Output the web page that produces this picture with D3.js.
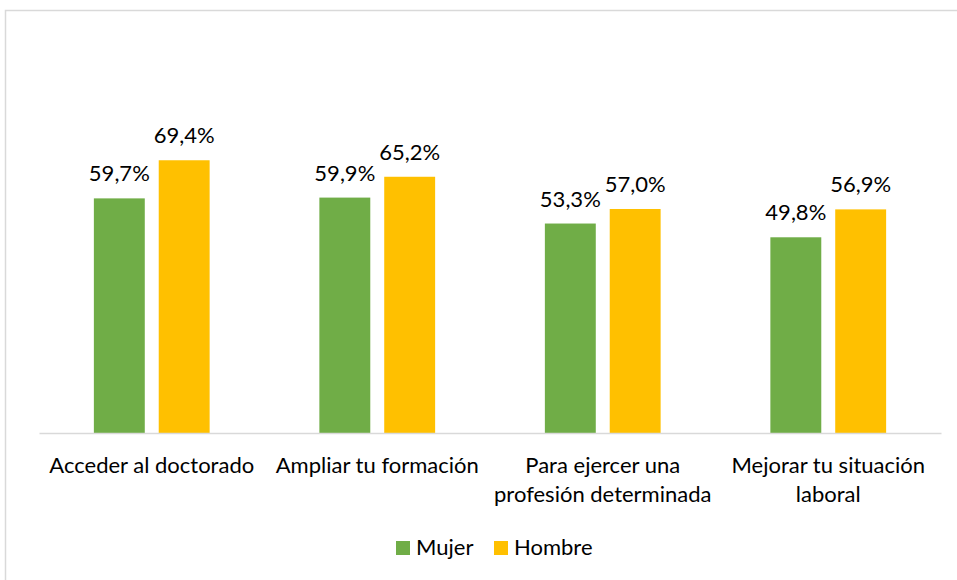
<!DOCTYPE html>
<html>
<head>
<meta charset="utf-8">
<script src="https://cdn.jsdelivr.net/npm/d3@7"></script>
<style>
  body { margin: 0; background: #fff; }
  svg { display: block; font-family: Lato, "Open Sans", sans-serif; }
</style>
</head>
<body>
<script>
const categories = [
  ['Acceder al doctorado'],
  ['Ampliar tu formación'],
  ['Para ejercer una', 'profesión determinada'],
  ['Mejorar tu situación', 'laboral']
];
const seriesNames = ['Mujer', 'Hombre'];
const mujer = [59.7, 59.9, 53.3, 49.8];
const hombre = [69.4, 65.2, 57.0, 56.9];
const colors = ['#70AD47', '#FFC000'];

const [w, h] = [957, 580];
const fontSize = '22px';
const fmt = v => d3.format('.1f')(v).replace('.', ',') + '%';

const svg = d3.select('body').append('svg')
    .attr('width', w)
    .attr('height', h);

// chart area border
svg.append('rect')
    .attr('x', 5.5).attr('y', 10.5)
    .attr('width', 960).attr('height', 580)
    .attr('fill', 'none')
    .attr('stroke', '#d9d9d9')
    .attr('stroke-width', 1.5);

const plot = { left: 39, right: 941, top: 118.6, bottom: 433 };

const x0 = d3.scaleBand()
    .domain(d3.range(categories.length))
    .range([plot.left, plot.right]);

const x1 = d3.scaleBand()
    .domain(seriesNames)
    .range([0, x0.bandwidth()])
    .paddingInner(0.215)
    .paddingOuter(0.846);

const y = d3.scaleLinear()
    .domain([0, 80])
    .range([plot.bottom, plot.top]);

const rows = categories.map((c, i) => ({ i, values: [mujer[i], hombre[i]] }));

const groups = svg.selectAll('.group')
    .data(rows)
    .enter().append('g')
    .attr('class', 'group')
    .attr('transform', d => `translate(${x0(d.i)},0)`);

const bars = groups.selectAll('g.bar')
    .data(d => d.values.map((v, k) => ({ name: seriesNames[k], v, k })))
    .enter().append('g')
    .attr('class', 'bar');

bars.append('rect')
    .attr('x', d => x1(d.name))
    .attr('y', d => y(d.v))
    .attr('width', x1.bandwidth())
    .attr('height', d => y(0) - y(d.v))
    .attr('fill', d => colors[d.k]);

bars.append('text')
    .attr('x', d => x1(d.name) + x1.bandwidth() / 2)
    .attr('y', d => y(d.v) - 17)
    .attr('text-anchor', 'middle')
    .attr('font-size', fontSize)
    .attr('fill', '#000')
    .text(d => fmt(d.v));

// x axis
const xAxis = svg.append('g')
    .attr('transform', `translate(0,${plot.bottom})`)
    .call(d3.axisBottom(x0).tickSize(0).tickFormat(''));
xAxis.select('.domain').attr('stroke', '#d9d9d9').attr('stroke-width', 1.5);

svg.selectAll('.cat')
    .data(categories)
    .enter().append('text')
    .attr('class', 'cat')
    .attr('text-anchor', 'middle')
    .attr('font-size', fontSize)
    .attr('fill', '#000')
    .attr('transform', (d, i) => `translate(${x0(i) + x0.bandwidth() / 2},473)`)
    .selectAll('tspan')
    .data(d => d)
    .enter().append('tspan')
    .attr('x', 0)
    .attr('y', (d, j) => j * 29)
    .text(d => d);

// legend
const legend = svg.append('g').attr('transform', 'translate(396,541)');
const legendX = [0, 98];
const li = legend.selectAll('g')
    .data(seriesNames)
    .enter().append('g')
    .attr('transform', (d, i) => `translate(${legendX[i]},0)`);
li.append('rect')
    .attr('width', 14).attr('height', 14)
    .attr('fill', (d, i) => colors[i]);
li.append('text')
    .attr('x', 20).attr('y', 14)
    .attr('font-size', fontSize)
    .attr('fill', '#000')
    .text(d => d);
</script>
</body>
</html>
